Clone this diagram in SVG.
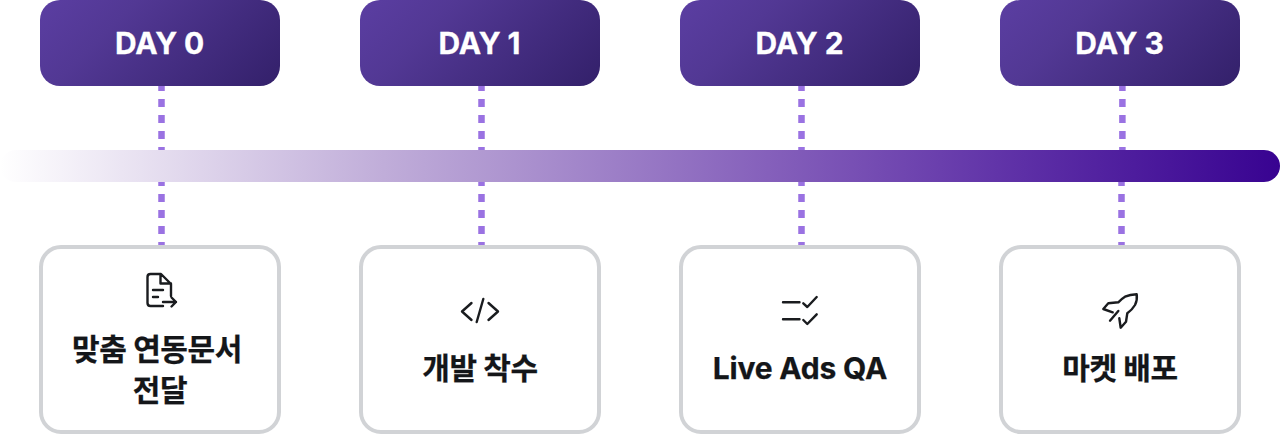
<svg xmlns="http://www.w3.org/2000/svg" width="1280" height="434" viewBox="0 0 1280 434">
<defs>
<linearGradient id="hd" gradientUnits="userSpaceOnUse" x1="78.500" y1="-38.500" x2="241.500" y2="124.500"><stop offset="0" stop-color="#5B3EA2"/><stop offset="0.3" stop-color="#523894"/><stop offset="1" stop-color="#33206A"/></linearGradient>
<linearGradient id="bar" x1="0" y1="0" x2="1" y2="0"><stop offset="0" stop-color="#fff"/><stop offset="0.3" stop-color="#C0ADD9"/><stop offset="0.6" stop-color="#8560BB"/><stop offset="0.8" stop-color="#5D2FA6"/><stop offset="1" stop-color="#380391"/></linearGradient>
<style>
.h{fill:url(#hd)}
.c{fill:#fff;stroke:#D1D3D6;stroke-width:4}
.t{font-family:"Inter","Noto Sans CJK KR",sans-serif;text-anchor:middle}
.h1{font-size:30px;font-weight:700;fill:#fff;letter-spacing:-.1px;stroke:#fff;stroke-width:.3px}
.b1{font-size:30px;font-weight:700;fill:#141619;letter-spacing:-.4px;stroke:#141619;stroke-width:.25px}
.l1{letter-spacing:-.2px}
.d{stroke:#9A72E2;stroke-width:6.500;stroke-dasharray:8 8;fill:none}
.i{fill:none;stroke:#1A1C1F;stroke-width:2.400;stroke-linecap:round;stroke-linejoin:round}
</style>
</defs>
<g id="connectors">
<path class="d" d="M161.500 83V150M161.500 178V246"/>
<path class="d" d="M481.500 83V150M481.500 178V246"/>
<path class="d" d="M801.500 83V150M801.500 178V246"/>
<path class="d" d="M1122.400 83V150M1121.500 178V246"/>
</g>
<g id="timeline"><rect x="0" y="150" width="1280" height="32" rx="16" fill="url(#bar)"/></g>
<g id="day0"><rect class="h" x="40" y="0" width="240" height="86" rx="20"/><text class="t h1" x="159.500" y="54">DAY 0</text></g>
<g id="day1" transform="translate(320)"><rect class="h" x="40" y="0" width="240" height="86" rx="20"/><text class="t h1" x="159.500" y="54">DAY 1</text></g>
<g id="day2" transform="translate(640)"><rect class="h" x="40" y="0" width="240" height="86" rx="20"/><text class="t h1" x="159.500" y="54">DAY 2</text></g>
<g id="day3" transform="translate(960)"><rect class="h" x="40" y="0" width="240" height="86" rx="20"/><text class="t h1" x="159.500" y="54">DAY 3</text></g>
<g id="card0"><rect class="c" x="41" y="247" width="238" height="185" rx="20"/>
<path class="i" d="M163 306H150.500Q147.500 306 147.500 303V277Q147.500 274 150.500 274H161L171 284V296M160.500 274V283.500H171M153 290H163M153 297H158M163 302H176M171.500 297.500L176 302L171.500 306.500"/>
<text class="t b1" x="157" y="359.500">맞춤 연동문서</text><text class="t b1" x="160" y="401">전달</text></g>
<g id="card1"><rect class="c" x="361" y="247" width="238" height="185" rx="20"/>
<path class="i" d="M471.500 303L462 311.500L471.500 320M488.500 303L498 311.500L488.500 320M483.300 299L476.700 322"/>
<text class="t b1" x="480" y="379">개발 착수</text></g>
<g id="card2"><rect class="c" x="681" y="247" width="238" height="185" rx="20"/>
<path class="i" d="M783 302.300H799.500M783 319.300H799.500M803.300 303.300L807.300 307L816.700 297M803.300 320L807.300 324L816.700 314.300"/>
<text class="t b1 l1" x="800" y="379">Live Ads QA</text></g>
<g id="card3"><rect class="c" x="1001" y="247" width="238" height="185" rx="20"/>
<path class="i" d="M1112.700 312.300L1103.300 309L1108.300 303.300L1118.300 302.300Q1122 298.500 1125 296.700Q1130 294.500 1136.700 294.300Q1137.500 300 1135 305Q1132 310 1127.300 313.300L1126 321.700L1120.700 327.700L1119.300 318.300M1118.300 311L1110 320.700"/>
<text class="t b1" x="1120" y="379">마켓 배포</text></g>
</svg>
